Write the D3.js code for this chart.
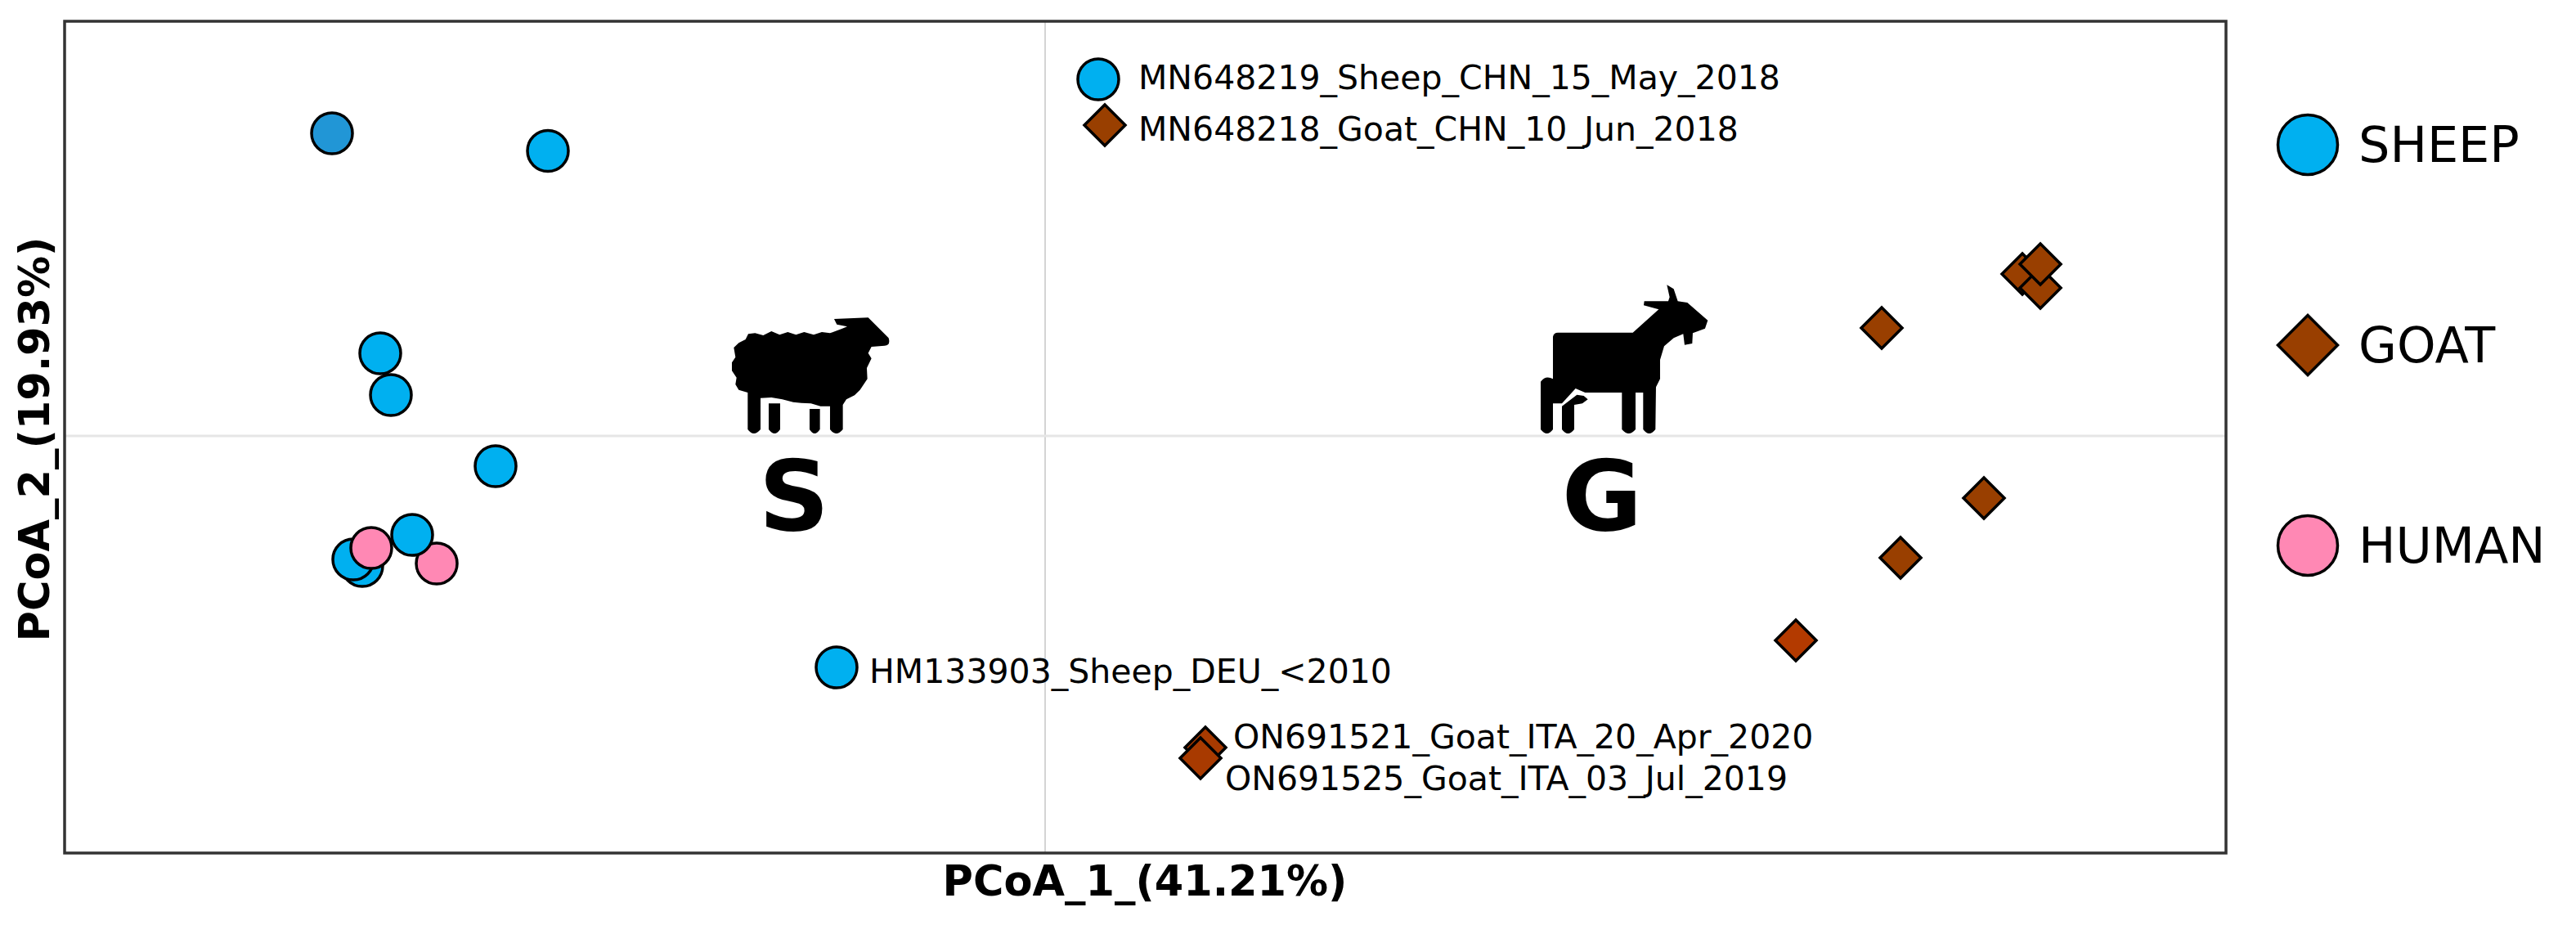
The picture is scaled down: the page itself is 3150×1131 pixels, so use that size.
<!DOCTYPE html>
<html>
<head>
<meta charset="utf-8">
<script src="https://cdn.jsdelivr.net/npm/d3@7"></script>
<style>
  html, body { margin: 0; padding: 0; background: #fff; }
  svg { display: block; }
  text { font-family: "DejaVu Sans", sans-serif; fill: #000; }
</style>
</head>
<body>
<svg id="chart" width="3150" height="1131"></svg>
<script>
// values, drawing order is back to front
const pcoa1 = [-0.4175, -0.423, -0.436, -0.304, -0.4065, -0.400, -0.336, 0.0325, -0.1275, -0.372, -0.387, -0.412,
               0.0365, 0.5115, 0.5975, 0.6085, 0.6085, 0.574, 0.523, 0.459, 0.098, 0.095];
const pcoa2 = [-0.159, -0.151, 0.370, 0.3485, 0.101, 0.050, -0.037, 0.436, -0.283, -0.156, -0.121, -0.137,
               0.380, 0.132, 0.198, 0.181, 0.210, -0.076, -0.149, -0.250, -0.381, -0.394];
const host = ["SHEEP", "SHEEP", "SHEEP", "SHEEP", "SHEEP", "SHEEP", "SHEEP", "SHEEP", "SHEEP", "HUMAN", "SHEEP", "HUMAN",
              "GOAT", "GOAT", "GOAT", "GOAT", "GOAT", "GOAT", "GOAT", "GOAT", "GOAT", "GOAT"];

const legendKeys = ["SHEEP", "GOAT", "HUMAN"];
const legendColors = ["#00b0f0", "#993f00", "#ff88b4"];

// labelled isolates: index into the arrays above and the text
const labelIndex = [7, 12, 8, 20, 21];
const labelText = ["MN648219_Sheep_CHN_15_May_2018", "MN648218_Goat_CHN_10_Jun_2018", "HM133903_Sheep_DEU_<2010",
                   "ON691521_Goat_ITA_20_Apr_2020", "ON691525_Goat_ITA_03_Jul_2019"];
const labelDx = [49, 41, 40, 34, 30];
const labelDy = [12, 19, 19, 1, 39];

const xDomain = [-0.5995, 0.722];
const yDomain = [-0.51, 0.507];

const svg = d3.select("#chart");

const plotLeft = 79, plotRight = 2722, plotTop = 26, plotBottom = 1043;
const x = d3.scaleLinear().domain(xDomain).range([plotLeft, plotRight]);
const y = d3.scaleLinear().domain(yDomain).range([plotBottom, plotTop]);
const color = d3.scaleOrdinal().domain(legendKeys).range(legendColors);

// diamond as a symbol type, size is the half diagonal squared
const diamond = {
  draw(ctx, size) {
    const r = Math.sqrt(size);
    ctx.moveTo(0, -r);
    ctx.lineTo(r, 0);
    ctx.lineTo(0, r);
    ctx.lineTo(-r, 0);
    ctx.closePath();
  }
};

function markPath(key, r) {
  return key == "GOAT"
    ? d3.symbol().type(diamond).size(r * r)()
    : d3.symbol().type(d3.symbolCircle).size(Math.PI * r * r)();
}

// zero lines
svg.append("line").attr("x1", x(0)).attr("x2", x(0)).attr("y1", plotTop).attr("y2", plotBottom)
  .attr("stroke", "#d4d4d4").attr("stroke-width", 2);
svg.append("line").attr("x1", plotLeft).attr("x2", plotRight).attr("y1", y(0)).attr("y2", y(0))
  .attr("stroke", "#e6e6e6").attr("stroke-width", 3);

// panel border
svg.append("rect").attr("x", plotLeft).attr("y", plotTop)
  .attr("width", plotRight - plotLeft).attr("height", plotBottom - plotTop)
  .attr("fill", "none").attr("stroke", "#333").attr("stroke-width", 3.5);

// icons, traced by hand
const sheepPath = "M660,270L785,265L860,340Q868,368 845,368L797,372L785,395L797,415L780,450L782,490L755,530L735,550L705,565L692,585L692,675Q668,705 645,675L645,590L610,590L575,580L540,578L510,575L470,565L430,558L390,560L390,675Q365,705 343,675L343,540L310,530L298,510L302,485L285,460L285,430L298,410L292,375L310,358L335,345L345,325L370,322L400,330L430,315L460,328L490,318L520,328L550,318L585,328L615,318L645,322L690,305L708,298L670,290Z"
  + "M420,580L462,580L462,675Q442,705 420,675Z"
  + "M570,600L608,600L608,675Q588,705 570,675Z";
const goatPath = "M775,145L800,160L815,205L850,210L925,275L915,305L870,322L868,360L840,365L835,325L800,340L765,370L750,420L750,490L735,520L733,675Q710,705 688,675L688,540L660,540L660,675Q635,705 610,675L610,540L475,540L440,525L390,580L357,580L357,675Q335,705 312,675L312,500Q330,475 357,490L357,335Q360,320 375,320L650,320L745,235L690,220L692,205L780,205L785,190Z"
  + "M445,548L470,552L485,565L465,580L435,585L435,675Q412,705 390,675L390,590Z";

svg.append("path").attr("d", sheepPath).attr("fill", "#000").attr("transform", "translate(800,300) scale(0.3333)");
svg.append("path").attr("d", goatPath).attr("fill", "#000").attr("transform", "translate(1780,300) scale(0.3333)");

svg.append("text").attr("x", 971).attr("y", 648).attr("text-anchor", "middle")
  .attr("font-size", 120).attr("font-weight", "bold").text("S");
svg.append("text").attr("x", 1959).attr("y", 648).attr("text-anchor", "middle")
  .attr("font-size", 120).attr("font-weight", "bold").text("G");

// points
const shadeFix = { 2: "#2196d6", 19: "#b33a00", 20: "#a83a00", 21: "#a83a00" };

svg.append("g").selectAll("path")
  .data(d3.range(pcoa1.length))
  .join("path")
  .attr("transform", i => `translate(${x(pcoa1[i])},${y(pcoa2[i])})`)
  .attr("d", i => markPath(host[i], 25))
  .attr("fill", i => shadeFix[i] || color(host[i]))
  .attr("stroke", "#000")
  .attr("stroke-width", 3.5)
  .attr("stroke-linejoin", "miter");

// point labels
svg.append("g").selectAll("text")
  .data(labelIndex)
  .join("text")
  .attr("x", (d, i) => x(pcoa1[d]) + labelDx[i])
  .attr("y", (d, i) => y(pcoa2[d]) + labelDy[i])
  .attr("font-size", 41)
  .text((d, i) => labelText[i]);

// axis titles
svg.append("text").attr("x", 1400).attr("y", 1095).attr("text-anchor", "middle")
  .attr("font-size", 51).attr("font-weight", "bold").text("PCoA_1_(41.21%)");
svg.append("text").attr("transform", "translate(60,537) rotate(-90)").attr("text-anchor", "middle")
  .attr("font-size", 51).attr("font-weight", "bold").text("PCoA_2_(19.93%)");

// legend
const legendY = d3.scalePoint().domain(legendKeys).range([177, 667]);
const legend = svg.append("g").selectAll("g")
  .data(legendKeys)
  .join("g")
  .attr("transform", d => `translate(2822,${legendY(d)})`);
legend.append("path")
  .attr("d", d => markPath(d, 36.5))
  .attr("fill", d => color(d))
  .attr("stroke", "#000")
  .attr("stroke-width", 3.5);
legend.append("text")
  .attr("x", 62)
  .attr("y", 21)
  .attr("font-size", 60.5)
  .text(d => d);
</script>
</body>
</html>
